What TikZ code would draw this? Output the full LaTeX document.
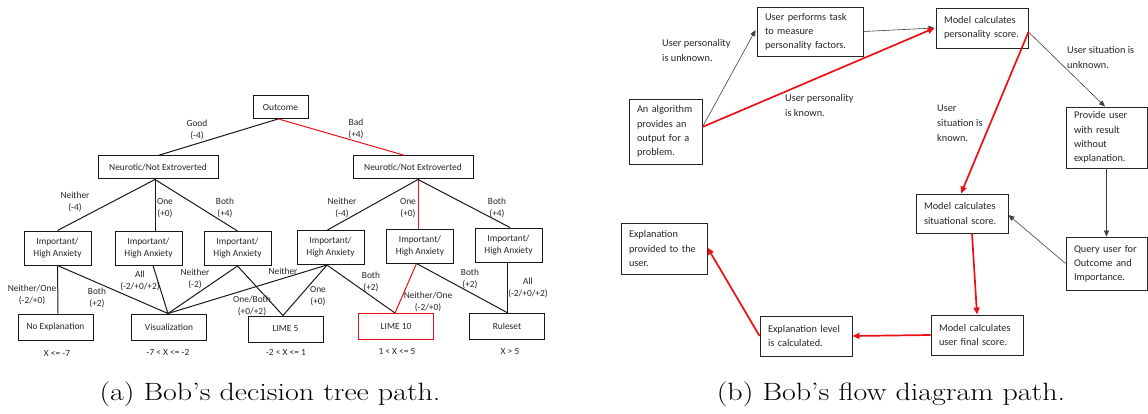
\documentclass[tikz,border=0pt]{standalone}
\usepackage{fontspec}
\newfontfamily\diagfont{Carlito}
\usetikzlibrary{arrows.meta}
\definecolor{pathred}{RGB}{236,16,22}
\definecolor{textc}{RGB}{38,38,38}
\newcommand{\treefont}{\diagfont\fontsize{9.4}{12}\selectfont}
\newcommand{\flowfont}{\diagfont\fontsize{10.3}{14.2}\selectfont}
\newcommand{\flowlblfont}{\diagfont\fontsize{10.3}{15}\selectfont}
\newcommand{\capwide}[1]{\scalebox{1.2}[1]{#1}}
\begin{document}
\begin{tikzpicture}[x=1pt,y=-1pt,
  treebox/.style={draw=black!90, line width=1pt, fill=white, font=\treefont, text=textc,
    inner sep=0pt, align=center},
  ihabox/.style={treebox, minimum width=67pt, minimum height=34pt},
  leafbox/.style={treebox, minimum width=75pt, minimum height=26pt},
  treeedge/.style={line width=1pt, draw=black!90},
  pathedge/.style={line width=1pt, draw=pathred},
  lbl/.style={font=\treefont, text=textc, align=center, inner sep=0pt},
  flowbox/.style={draw=black!85, line width=0.9pt, font=\flowfont, text=textc, align=left,
    inner xsep=8pt, inner ysep=2pt},
  flowlbl/.style={font=\flowlblfont, text=textc, align=left, inner sep=0pt, anchor=north west},
  flowedge/.style={line width=0.6pt, draw=black!75, -{Triangle[length=6pt,width=5pt]}},
  flowpath/.style={line width=1.7pt, draw=pathred, -{Triangle[length=7pt,width=6pt]}},
  caption/.style={font=\fontsize{25}{30}\selectfont, inner sep=0pt}]
\useasboundingbox (0,0) rectangle (1148,414);

% ---------------- decision tree ----------------
\node[treebox, minimum width=55pt, minimum height=23pt] (out) at (280.5,107) {Outcome};
\node[treebox, minimum width=120pt, minimum height=23pt] (nl) at (158,167.5) {Neurotic/Not Extroverted};
\node[treebox, minimum width=120pt, minimum height=23pt] (nr) at (413,167.5) {Neurotic/Not Extroverted};

\node[ihabox] (i1) at (57.5,248) {Important/\\High Anxiety};
\node[ihabox] (i2) at (148.5,248) {Important/\\High Anxiety};
\node[ihabox] (i3) at (237.5,248.5) {Important/\\High Anxiety};
\node[ihabox] (i4) at (330.5,247.5) {Important/\\High Anxiety};
\node[ihabox] (i5) at (420,246) {Important/\\High Anxiety};
\node[ihabox] (i6) at (508.5,245) {Important/\\High Anxiety};

\node[leafbox] (noexp) at (55.5,327) {No Explanation};
\node[leafbox] (vis) at (169,327) {Visualization};
\node[leafbox] (lime5) at (285.5,329) {LIME 5};
\node[leafbox, draw=pathred] (lime10) at (396,326.5) {LIME 10};
\node[leafbox] (rules) at (507,326) {Ruleset};

% score ranges under the leaves
\node[lbl] (r1) at (57,353) {X <= -7};
\node[lbl] (r2) at (168,352) {-7 < X <= -2};
\node[lbl] (r3) at (286,352) {-2 < X <= 1};
\node[lbl] (r4) at (397,352) {1 < X <= 5};
\node[lbl] (r5) at (510,352) {X > 5};

% branches
\draw[treeedge] ([xshift=-2.5pt]out.south) -- (nl.north);
\draw[pathedge] ([xshift=-2pt]out.south) -- ([xshift=-8pt]nr.north);
\draw[treeedge] ([xshift=-3pt]nl.south) -- (i1.north);
\draw[treeedge] ([xshift=-3pt]nl.south) -- ([xshift=6.5pt]i2.north);
\draw[treeedge] ([xshift=-3pt]nl.south) -- (i3.north);
\draw[treeedge] ([xshift=5pt]nr.south) -- ([xshift=-3pt]i4.north);
\draw[pathedge] ([xshift=5pt]nr.south) -- ([xshift=-2pt]i5.north);
\draw[treeedge] ([xshift=5pt]nr.south) -- ([xshift=1.5pt]i6.north);

\draw[treeedge] (i1.south) -- ([xshift=2.5pt]noexp.north);
\draw[treeedge] (i1.south) -- ([xshift=-1pt]vis.north);
\draw[treeedge] ([xshift=4.5pt]i2.south) -- ([xshift=-1pt]vis.north);
\draw[treeedge] (i3.south) -- ([xshift=-1pt]vis.north);
\draw[treeedge] (i3.south) -- ([xshift=-2.5pt]lime5.north);
\draw[treeedge] ([xshift=-3.5pt]i4.south) -- ([xshift=-1pt]vis.north);
\draw[treeedge] ([xshift=-3.5pt]i4.south) -- ([xshift=-2.5pt]lime5.north);
\draw[treeedge] ([xshift=-3.5pt]i4.south) -- ([xshift=-1pt]lime10.north);
\draw[pathedge] ([xshift=-3.5pt]i5.south) -- ([xshift=-1pt]lime10.north);
\draw[treeedge] ([xshift=-3.5pt]i5.south) -- (rules.north);
\draw[treeedge] ([xshift=-1.5pt]i6.south) -- (rules.north);

% branch labels
\node[lbl] (lgood) at (197,129.5) {Good\\(-4)};
\node[lbl] (lbad) at (356,129) {Bad\\(+4)};
\node[lbl] (ln1) at (75,202) {Neither\\(-4)};
\node[lbl] (lo1) at (165,208) {One\\(+0)};
\node[lbl] (lb1) at (225,208) {Both\\(+4)};
\node[lbl] (ln2) at (342,208) {Neither\\(-4)};
\node[lbl] (lo2) at (408,208) {One\\(+0)};
\node[lbl] (lb2) at (497,208) {Both\\(+4)};

\node[lbl] (la1) at (32,295) {Neither/One\\(-2/+0)};
\node[lbl] (la2) at (97,298) {Both\\(+2)};
\node[lbl] (lb3) at (140,281) {All\\(-2/+0/+2)};
\node[lbl] (lc1) at (195,279) {Neither\\(-2)};
\node[lbl] (lc2) at (252,306) {One/Both\\(+0/+2)};
\node[lbl] (ld1) at (283,271) {Neither};
\node[lbl] (ld2) at (318,296.5) {One\\(+0)};
\node[lbl] (ld3) at (371,282) {Both\\(+2)};
\node[lbl] (le1) at (428,302) {Neither/One\\(-2/+0)};
\node[lbl] (le2) at (470,279) {Both\\(+2)};
\node[lbl] (lf1) at (528,288) {All\\(-2/+0/+2)};

% ---------------- flow diagram ----------------
\node[flowbox, text width=57pt, minimum height=65pt] (algo) at (665.5,131.5)
  {An algorithm\\provides an\\output for a\\problem.};
\node[flowbox, text width=90pt, minimum height=49pt] (task) at (810,31.5)
  {User performs task\\to measure\\personality factors.};
\node[flowbox, text width=76pt, minimum height=40pt] (pers) at (982,28)
  {Model calculates\\personality score.};
\node[flowbox, text width=65pt, minimum height=61pt] (prov) at (1106.5,137.5)
  {Provide user\\with result\\without\\explanation.};
\node[flowbox, text width=76pt, minimum height=39pt] (sit) at (962,213.5)
  {Model calculates\\situational score.};
\node[flowbox, text width=65pt, minimum height=53pt] (query) at (1106.5,263.5)
  {Query user for\\Outcome and\\Importance.};
\node[flowbox, text width=76pt, minimum height=40pt] (final) at (977,335)
  {Model calculates\\user final score.};
\node[flowbox, text width=76pt, minimum height=40pt] (level) at (806,336)
  {Explanation level\\is calculated.};
\node[flowbox, text width=70pt, minimum height=51pt] (given) at (664,248.5)
  {Explanation\\provided to the\\user.};

\draw[flowedge] ([yshift=4.5pt]algo.east) -- ([xshift=-1pt,yshift=1.5pt]task.west);
\draw[flowedge] (task.east) -- ([xshift=-1pt]pers.west);
\draw[flowpath] ([yshift=4.5pt]algo.east) -- ([xshift=-1pt]pers.west);
\draw[flowedge] ([yshift=-4pt]pers.east) -- ([xshift=-1.5pt]prov.north);
\draw[flowpath] ([yshift=-4pt]pers.east) -- ([xshift=-1pt]sit.north);
\draw[flowedge] (prov.south) -- (query.north);
\draw[flowedge] (query.west) -- ([yshift=-1.5pt]sit.east);
\draw[flowpath] ([xshift=10pt]sit.south) -- (final.north);
\draw[flowpath] (final.west) -- (level.east);
\draw[flowpath] (level.west) -- ([yshift=1pt]given.east);

\node[flowlbl] (u1) at (662,39) {User personality\\is unknown.};
\node[flowlbl] (u2) at (785,94) {User personality\\is known.};
\node[flowlbl] (u3) at (1067,46) {User situation is\\unknown.};
\node[flowlbl] (u4) at (937,105) {User\\situation is\\known.};

% ---------------- captions ----------------
\node[caption] (capa) at (270,394) {\capwide{(a) Bob's decision tree path.}};
\node[caption] (capb) at (891,394) {\capwide{(b) Bob's flow diagram path.}};
\end{tikzpicture}
\end{document}
